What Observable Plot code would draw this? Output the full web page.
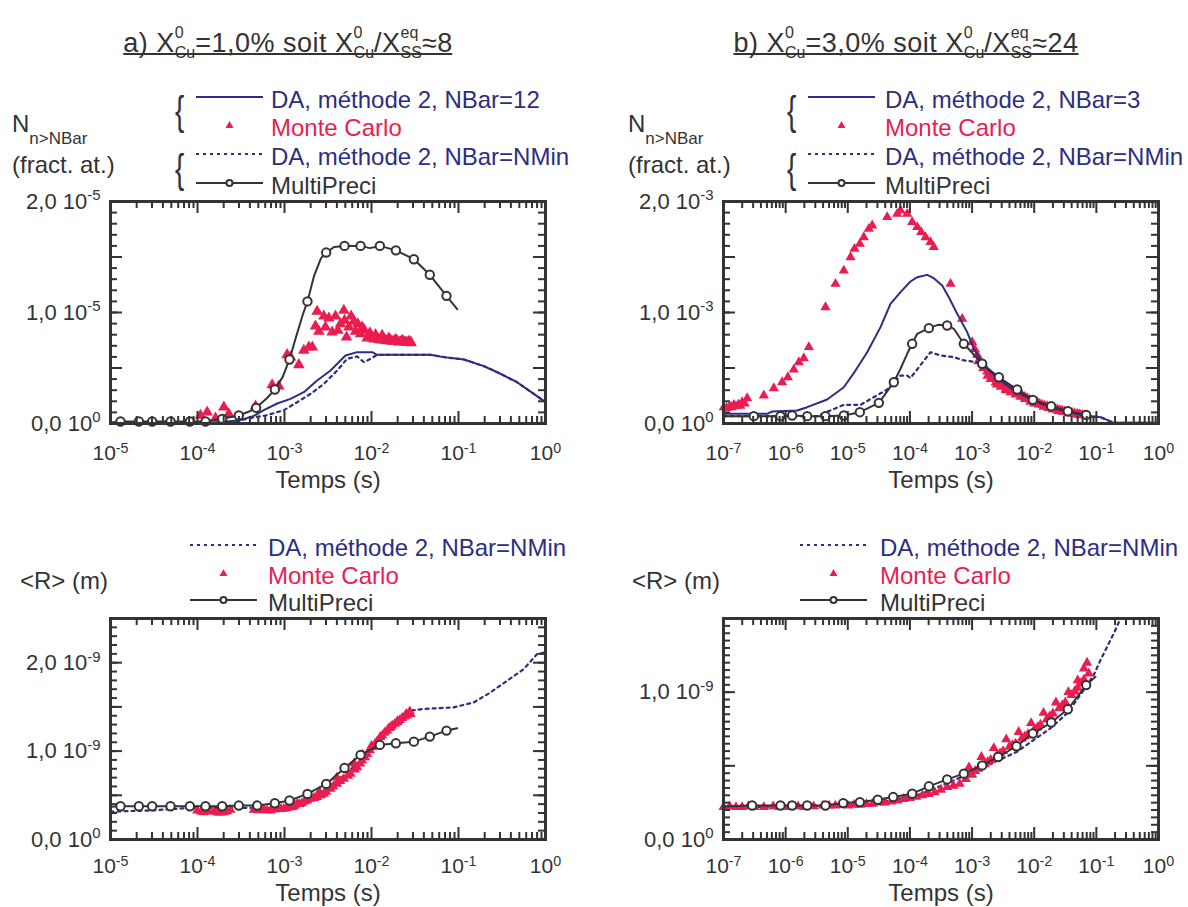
<!DOCTYPE html>
<html><head><meta charset="utf-8">
<script src="https://cdn.jsdelivr.net/npm/d3@7"></script>
<script src="https://cdn.jsdelivr.net/npm/@observablehq/plot@0.6"></script>
<style>
body{margin:0;background:#fff;font-family:"Liberation Sans",Arial,Helvetica,sans-serif;color:#333}
#root{position:relative;width:1188px;height:907px;overflow:hidden;background:#fff}
.abs{position:absolute;white-space:nowrap}
.title{font-size:27px;line-height:27px;height:30px;transform:translateX(-50%);border-bottom:2px solid #333;letter-spacing:0.5px}
.ss{display:inline-block;vertical-align:-6px;font-size:16px;line-height:20px;letter-spacing:0}
.ss span{display:block}
.row{position:absolute;height:28px;display:flex;align-items:center;font-size:24px;line-height:28px;white-space:nowrap}
.brace{position:absolute;font-size:40px;line-height:40px;color:#333;transform:scaleX(0.7);transform-origin:left center}
.ylab{position:absolute;font-size:24px;line-height:24px;color:#333;white-space:nowrap}
.ylab sub{font-size:17px;vertical-align:-12px}
</style>
</head><body><div id="root"></div>
<script>
const ink = "#333333", navy = "#2b2e83", red = "#ea1d50";

// ---------- Panel a) top : N_{n>NBar} (values in 1e-6) ----------
const aN_da_lt = [-5,-3.966,-3.697,-3.506,-3.353,-3.238,-3.084,-2.931,-2.778,-2.625,-2.471,-2.299,-2.165,-1.992,-1.935,-1.322,-1.169,-0.939,-0.709,-0.517,-0.326,-0.134,0];
const aN_da_v  = [0,0,0.15,0.3,0.69,1.2,1.8,2.22,2.82,3.87,4.77,6.13,6.43,6.43,6.19,6.19,5.98,5.77,5.17,4.48,3.72,2.67,1.92];
const aN_nmin_lt = [-5,-3.621,-3.429,-3.199,-3.008,-2.854,-2.701,-2.548,-2.395,-2.28,-2.165,-2.088,-2.011,-1.935,-1.322,-1.169,-0.939,-0.709,-0.517,-0.326,-0.134,0];
const aN_nmin_v  = [0,0.06,0.45,0.75,1.2,1.92,2.67,3.57,4.77,5.83,6.04,5.53,5.83,6.19,6.19,5.98,5.77,5.17,4.48,3.72,2.67,1.92];
const aN_mp_lt = [-5,-4.885,-4.674,-4.521,-4.31,-4.088,-3.908,-3.716,-3.525,-3.4,-3.326,-3.2,-3.111,-3.02,-2.943,-2.86,-2.79,-2.736,-2.66,-2.58,-2.521,-2.43,-2.31,-2.126,-2.02,-1.904,-1.72,-1.513,-1.33,-1.138,-1.015];
const aN_mp_v  = [0.1,0.18,0.18,0.18,0.18,0.18,0.18,0.42,0.72,1.1,1.41,2.3,3.06,4.2,5.77,8.0,9.8,11.0,13.3,14.9,15.4,15.9,16.0,16.0,15.8,16.0,15.6,14.8,13.4,11.5,10.3];
const aN_mpo_lt = [-4.885,-4.674,-4.521,-4.31,-4.088,-3.908,-3.716,-3.525,-3.326,-3.111,-2.943,-2.736,-2.521,-2.31,-2.126,-1.904,-1.72,-1.513,-1.33,-1.138];
const aN_mpo_v  = [0.18,0.18,0.18,0.18,0.18,0.18,0.42,0.72,1.41,3.06,5.77,11.0,15.4,16.0,16.0,16.0,15.6,14.8,13.4,11.5];
const aN_mc = [[-3.966,0.72],[-3.889,1.02],[-3.793,0.48],[-3.697,1.47],[-3.64,0.87],[-3.333,1.56],[-3.142,3.48],[-3.065,3.36],[-2.97,6.19],[-2.931,5.98],[-2.835,5.29],[-2.778,6.58],[-2.72,6.88],[-2.68,6.88],[-2.625,10.09],[-2.644,8.77],[-2.605,8.29],[-2.548,9.67],[-2.529,8.68],[-2.49,9.49],[-2.452,8.23],[-2.414,9.67],[-2.387,8.38],[-2.356,8.98],[-2.318,10.18],[-2.31,9.28],[-2.287,7.78],[-2.26,8.68],[-2.234,9.67],[-2.203,9.19],[-2.184,8.29],[-2.157,8.98],[-2.126,8.08],[-2.107,8.68],[-2.08,8.38],[-2.05,7.69],[-2.019,8.17],[-1.992,7.78],[-1.97,7.6],[-1.954,7.99],[-1.935,7.7],[-1.916,7.57],[-1.897,7.5],[-1.878,7.93],[-1.86,7.6],[-1.839,7.48],[-1.82,7.45],[-1.801,7.69],[-1.78,7.5],[-1.763,7.39],[-1.744,7.4],[-1.724,7.57],[-1.705,7.45],[-1.686,7.33],[-1.667,7.35],[-1.648,7.48],[-1.63,7.4],[-1.609,7.33],[-1.59,7.3],[-1.571,7.39],[-1.557,7.35],[-1.544,7.27]];

// ---------- Panel b) top : N_{n>NBar} (values in 1e-4) ----------
const bN_da_lt = [-7,-6.297,-6.217,-5.814,-5.653,-5.332,-5.064,-4.876,-4.688,-4.473,-4.313,-4.152,-3.991,-3.883,-3.722,-3.616,-3.481,-3.374,-3.239,-3.079,-2.971,-2.81,-2.542,-2.274,-2.006,-1.738,-1.469,-1.201,-0.933,-0.719,0];
const bN_da_v  = [0.87,0.87,1.08,1.17,1.47,2.16,3.27,4.77,6.42,8.68,10.78,11.83,12.79,13.18,13.39,13.09,12.43,11.38,9.88,8.23,6.73,5.23,3.87,2.82,2.07,1.47,1.08,0.72,0.57,0.06,0.06];
const bN_nmin_lt = [-7,-5.5,-5.064,-4.795,-4.366,-4.152,-4.044,-3.991,-3.669,-3.508,-3.293,-3.133,-2.918,-2.81,-2.542,-2.274,-2.006,-1.738,-1.469,-1.201,-0.933,-0.719,0];
const bN_nmin_v  = [0.66,0.66,1.68,1.68,3.06,4.32,4.32,4.1,6.42,6.13,5.98,5.68,5.53,5.23,3.87,2.82,2.07,1.47,1.08,0.72,0.57,0.06,0.06];
const bN_mp_lt = [-7,-6.512,-6.083,-5.895,-5.653,-5.359,-5.064,-4.806,-4.5,-4.259,-4.152,-4.044,-3.964,-3.883,-3.695,-3.55,-3.401,-3.293,-3.133,-2.837,-2.569,-2.274,-2.022,-1.727,-1.459,-1.164,-1.04];
const bN_mp_v  = [0.66,0.66,0.66,0.72,0.66,0.66,0.72,1.02,1.86,3.72,4.93,6.28,7.18,8.08,8.59,8.89,8.83,8.53,7.18,5.38,4.17,3.06,2.13,1.56,1.11,0.78,0.57];
const bN_mpo_lt = [-6.512,-6.083,-5.895,-5.653,-5.359,-5.064,-4.806,-4.5,-4.259,-3.964,-3.695,-3.401,-3.133,-2.837,-2.569,-2.274,-2.022,-1.727,-1.459,-1.164];
const bN_mpo_v  = [0.66,0.66,0.72,0.66,0.66,0.72,1.02,1.86,3.72,7.18,8.59,8.83,7.18,5.38,4.17,3.06,2.13,1.56,1.11,0.78];
const bN_mc = [[-6.995,1.47],[-6.95,1.4],[-6.9,1.55],[-6.87,1.45],[-6.834,1.68],[-6.8,1.55],[-6.76,1.7],[-6.73,1.6],[-6.7,1.92],[-6.66,1.8],[-6.619,2.28],[-6.351,2.52],[-6.19,3.18],[-6.056,3.72],[-5.965,4.17],[-5.869,4.86],[-5.788,5.52],[-5.708,5.88],[-5.627,6.88],[-5.359,10.48],[-5.198,12.58],[-5.064,13.78],[-4.956,14.98],[-4.892,15.74],[-4.806,16.19],[-4.742,16.78],[-4.662,17.54],[-4.607,17.84],[-4.366,18.59],[-4.205,18.89],[-4.152,19.2],[-4.044,18.89],[-3.964,18.14],[-3.883,17.69],[-3.819,17.24],[-3.749,16.78],[-3.669,16.34],[-3.616,15.89],[-3.347,12.58],[-3.159,9.43],[-2.998,7.33],[-2.958,6.7],[-2.918,6.19],[-2.9,5.6],[-2.878,5.7],[-2.837,5.38],[-2.82,5.0],[-2.797,5.0],[-2.757,4.68],[-2.75,4.3],[-2.716,4.4],[-2.7,4.0],[-2.676,4.17],[-2.636,4.0],[-2.62,3.7],[-2.6,3.5],[-2.596,3.87],[-2.556,3.7],[-2.54,3.3],[-2.515,3.57],[-2.475,3.4],[-2.46,3.05],[-2.45,3.0],[-2.435,3.27],[-2.394,3.1],[-2.38,2.8],[-2.354,2.97],[-2.314,2.85],[-2.3,2.6],[-2.274,2.79],[-2.233,2.65],[-2.22,2.4],[-2.193,2.52],[-2.153,2.4],[-2.15,2.2],[-2.113,2.28],[-2.072,2.15],[-2.06,1.95],[-2.032,2.07],[-2.0,1.8],[-1.992,1.98],[-1.952,1.92],[-1.93,1.7],[-1.911,1.78],[-1.871,1.68],[-1.85,1.5],[-1.831,1.6],[-1.791,1.56],[-1.77,1.4],[-1.751,1.45],[-1.711,1.38],[-1.7,1.25],[-1.67,1.32],[-1.63,1.26],[-1.61,1.12],[-1.59,1.2],[-1.55,1.17],[-1.55,1.05],[-1.51,1.08],[-1.469,1.02],[-1.45,0.92],[-1.429,0.98],[-1.4,0.9],[-1.389,0.96],[-1.348,0.9],[-1.308,0.87],[-1.29,0.78],[-1.268,0.82],[-1.25,0.75],[-1.228,0.78],[-1.188,0.75],[-1.147,0.72]];

// ---------- Panel a) bottom : <R> (values in 1e-10 m) ----------
const aR_nmin_lt = [-5,-4.54,-4.08,-3.123,-2.931,-2.739,-2.548,-2.318,-2.126,-1.973,-1.782,-1.552,-1.398,-1.054,-0.824,-0.632,-0.44,-0.249,-0.096,0];
const aR_nmin_v  = [3.16,3.28,3.58,3.58,3.95,4.6,5.54,7.23,8.93,10.43,12.32,14.58,14.77,14.95,15.51,16.64,17.97,19.29,20.98,21.17];
const aR_mp_lt = [-5,-4.885,-4.674,-4.521,-4.31,-4.088,-3.908,-3.716,-3.525,-3.314,-3.111,-2.943,-2.736,-2.521,-2.31,-2.126,-1.904,-1.72,-1.513,-1.33,-1.138,-1.015];
const aR_mp_v  = [3.7,3.76,3.76,3.76,3.76,3.76,3.76,3.76,3.84,3.84,4.1,4.41,5.16,6.29,8.1,9.57,10.7,10.88,11.07,11.64,12.32,12.58];
const aR_mpo_lt = [-4.885,-4.674,-4.521,-4.31,-4.088,-3.908,-3.716,-3.525,-3.314,-3.111,-2.943,-2.736,-2.521,-2.31,-2.126,-1.904,-1.72,-1.513,-1.33,-1.138];
const aR_mpo_v  = [3.76,3.76,3.76,3.76,3.76,3.76,3.76,3.84,3.84,4.1,4.41,5.16,6.29,8.1,9.57,10.7,10.88,11.07,11.64,12.32];
const aR_mc = [[-4.004,3.28],[-3.96,3.15],[-3.927,3.09],[-3.87,3.2],[-3.812,3.16],[-3.77,3.05],[-3.74,3.05],[-3.697,3.09],[-3.66,3.2],[-3.621,3.35],[-3.353,3.35],[-3.3,3.3],[-3.238,3.35],[-3.2,3.3],[-3.161,3.28],[-3.12,3.4],[-3.084,3.47],[-3.04,3.45],[-3.008,3.47],[-2.97,3.55],[-2.931,3.65],[-2.9,3.7],[-2.88,3.85],[-2.854,4.03],[-2.83,4.0],[-2.8,4.1],[-2.77,4.3],[-2.739,4.41],[-2.7,4.6],[-2.66,4.7],[-2.625,4.79],[-2.6,5.4],[-2.58,5.0],[-2.548,5.16],[-2.52,5.4],[-2.5,6.2],[-2.471,5.73],[-2.44,6.0],[-2.4,7.0],[-2.395,6.29],[-2.36,6.6],[-2.318,6.86],[-2.3,7.9],[-2.27,7.2],[-2.241,7.42],[-2.2,8.6],[-2.19,7.9],[-2.165,8.18],[-2.13,8.6],[-2.107,8.93],[-2.1,9.6],[-2.075,9.3],[-2.05,9.68],[-2.02,10.1],[-2.0,10.6],[-1.992,10.43],[-1.96,10.8],[-1.935,11.11],[-1.9,11.6],[-1.877,11.75],[-1.85,12.1],[-1.82,12.32],[-1.8,12.6],[-1.78,12.7],[-1.762,12.88],[-1.73,13.1],[-1.705,13.26],[-1.7,13.4],[-1.675,13.5],[-1.648,13.75],[-1.62,13.9],[-1.6,14.2],[-1.59,14.01],[-1.56,14.5],[-1.552,14.2]];

// ---------- Panel b) bottom : <R> (values in 1e-10 m) ----------
const bR_nmin_lt = [-7,-5.77,-4.688,-3.883,-3.293,-2.81,-2.274,-2.006,-1.738,-1.469,-1.201,-1.04,-0.933,-0.719,-0.611];
const bR_nmin_v  = [2.2,2.24,2.38,2.99,4.01,4.92,5.96,6.76,7.55,8.57,10.16,11.18,12.18,13.99,15.0];
const bR_mp_lt = [-7,-6.539,-6.083,-5.895,-5.653,-5.359,-5.074,-4.806,-4.517,-4.269,-3.964,-3.695,-3.401,-3.133,-2.837,-2.58,-2.285,-2.022,-1.727,-1.459,-1.164,-1.013];
const bR_mp_v  = [2.24,2.31,2.31,2.31,2.31,2.31,2.47,2.54,2.7,2.88,3.11,3.61,4.08,4.47,5.03,5.6,6.33,7.19,7.94,8.84,10.48,11.04];
const bR_mpo_lt = [-6.539,-6.083,-5.895,-5.653,-5.359,-5.074,-4.806,-4.517,-4.269,-3.964,-3.695,-3.401,-3.133,-2.837,-2.58,-2.285,-2.022,-1.727,-1.459,-1.164];
const bR_mpo_v  = [2.31,2.31,2.31,2.31,2.31,2.47,2.54,2.7,2.88,3.11,3.61,4.08,4.47,5.03,5.6,6.33,7.19,7.94,8.84,10.48];
const bR_mc = [[-7,2.2],[-6.9,2.25],[-6.8,2.2],[-6.7,2.2],[-6.6,2.25],[-6.5,2.2],[-6.35,2.2],[-6.2,2.25],[-6.1,2.2],[-5.95,2.2],[-5.8,2.25],[-5.7,2.2],[-5.55,2.25],[-5.4,2.3],[-5.3,2.3],[-5.2,2.3],[-5.1,2.35],[-5.0,2.3],[-4.9,2.35],[-4.8,2.35],[-4.7,2.4],[-4.6,2.42],[-4.5,2.5],[-4.4,2.5],[-4.3,2.58],[-4.2,2.65],[-4.1,2.75],[-4.0,2.82],[-3.9,2.9],[-3.8,3.0],[-3.7,3.08],[-3.6,3.2],[-3.5,3.38],[-3.4,3.56],[-3.3,3.65],[-3.2,3.78],[-3.1,4.1],[-3.05,4.9],[-3.0,4.4],[-2.95,4.65],[-2.9,4.8],[-2.85,5.6],[-2.8,5.1],[-2.75,5.25],[-2.7,5.4],[-2.65,6.2],[-2.6,5.7],[-2.55,5.85],[-2.5,6.0],[-2.45,6.8],[-2.4,6.3],[-2.35,6.4],[-2.3,6.5],[-2.25,7.3],[-2.2,6.85],[-2.15,7.0],[-2.1,7.15],[-2.05,7.9],[-2.0,7.45],[-1.95,7.6],[-1.9,7.8],[-1.85,8.6],[-1.8,8.15],[-1.75,8.35],[-1.7,8.55],[-1.65,9.3],[-1.6,8.9],[-1.55,9.1],[-1.5,9.3],[-1.45,10.0],[-1.4,9.8],[-1.35,10.05],[-1.3,10.3],[-1.3,10.8],[-1.25,10.6],[-1.2,10.85],[-1.2,11.6],[-1.15,12.0],[-1.121,11.27]];

// tick labels
const yLabA_N = ["0,0 10^0","1,0 10^-5","2,0 10^-5"];
const yLabB_N = ["0,0 10^0","1,0 10^-3","2,0 10^-3"];
const yLabA_R = ["0,0 10^0","1,0 10^-9","2,0 10^-9"];
const yLabB_R = ["0,0 10^0","1,0 10^-9"];

const rows = (lt, v, u) => lt.map((e, i) => ({t: 10 ** e, v: v[i] * u}));
const pairs = (p, u) => p.map(([e, v]) => ({t: 10 ** e, v: v * u}));

function supify(svg) {
  svg.querySelectorAll("text").forEach(t => {
    const s = t.textContent, i = s.indexOf("^");
    if (i < 0) return;
    t.textContent = s.slice(0, i);
    const sp = document.createElementNS("http://www.w3.org/2000/svg", "tspan");
    sp.setAttribute("dy", "-0.55em");
    sp.setAttribute("font-size", "0.68em");
    sp.textContent = s.slice(i + 1);
    t.appendChild(sp);
  });
}

const W = 560, ML = 110, MR = 15, MT = 11;
function panel(o) {
  const e0 = o.xExp;
  const innerW = W - ML - MR, innerH = o.height - MT - o.mb;
  const decades = d3.range(e0, 1).map(e => 10 ** e);
  const minors = [];
  for (const d of decades.slice(0, -1)) for (let k = 2; k <= 9; k++) minors.push(k * d);
  const n = Math.round(o.yMax / o.yStep);
  const yMinor = d3.range(n + 1).map(i => i * o.yStep);
  const nl = Math.round(o.yMax / o.yLong);
  const yLong = d3.range(nl + 1).map(i => i * o.yLong);
  const yLabTicks = o.yLabels.map((_, i) => i * o.yLabStep);
  const ts = {stroke: ink, strokeWidth: 2};
  const marks = [
    ...o.marks,
    Plot.tickX(minors, {...ts, x: d => d, insetTop: innerH - 7}),
    Plot.tickX(minors, {...ts, x: d => d, insetBottom: innerH - 7}),
    Plot.tickX(decades, {...ts, x: d => d, insetTop: innerH - 12}),
    Plot.tickX(decades, {...ts, x: d => d, insetBottom: innerH - 12}),
    Plot.tickY(yMinor, {...ts, y: d => d, insetRight: innerW - 7}),
    Plot.tickY(yMinor, {...ts, y: d => d, insetLeft: innerW - 7}),
    Plot.tickY(yLong, {...ts, y: d => d, insetRight: innerW - 12}),
    Plot.tickY(yLong, {...ts, y: d => d, insetLeft: innerW - 12}),
    Plot.axisX({anchor: "bottom", ticks: decades, tickSize: 0, tickPadding: o.pad, label: null, fontSize: 21, fill: ink,
      tickFormat: d => "10^" + Math.round(Math.log10(d))}),
    Plot.axisY({anchor: "left", ticks: yLabTicks, tickSize: 0, tickPadding: 10, label: null, fontSize: 22, fill: ink,
      tickFormat: d => o.yLabels[yLabTicks.indexOf(d)]}),
    Plot.text(["Temps (s)"], {frameAnchor: "bottom", dy: o.tdy, text: d => d, fontSize: 24, fill: ink}),
    Plot.frame({stroke: ink, strokeWidth: 3})
  ];
  const svg = Plot.plot({
    width: W, height: o.height,
    marginLeft: ML, marginRight: MR, marginTop: MT, marginBottom: o.mb,
    x: {type: "log", domain: [10 ** e0, 1], label: null},
    y: {domain: [0, o.yMax], label: null},
    style: {fontFamily: '"Liberation Sans", Arial, sans-serif', fontSize: "22px", color: ink, background: "transparent", overflow: "visible"},
    marks
  });
  supify(svg);
  const div = document.createElement("div");
  div.className = "abs";
  div.style.left = o.left + "px"; div.style.top = o.top + "px";
  div.appendChild(svg);
  document.getElementById("root").appendChild(div);
}

const solid = (d) => Plot.line(d, {x: "t", y: "v", stroke: navy, strokeWidth: 2});
const dotted = (d) => Plot.line(d, {x: "t", y: "v", stroke: navy, strokeWidth: 2.2, strokeDasharray: "3,4"});
const mcDots = (d, r) => Plot.dot(d, {x: "t", y: "v", symbol: "triangle", r, fill: red, stroke: null});
const mpLine = (d) => Plot.line(d, {x: "t", y: "v", stroke: ink, strokeWidth: 2});
const mpDots = (d) => Plot.dot(d, {x: "t", y: "v", r: 4.2, stroke: ink, strokeWidth: 2, fill: "white"});

panel({left: 0, top: 190, height: 310, mb: 77, pad: 22, tdy: 64, xExp: -5, yMax: 2e-5, yStep: 1e-6, yLong: 5e-6, yLabStep: 1e-5, yLabels: yLabA_N,
  marks: [solid(rows(aN_da_lt, aN_da_v, 1e-6)), dotted(rows(aN_nmin_lt, aN_nmin_v, 1e-6)), mcDots(pairs(aN_mc, 1e-6), 4.3),
          mpLine(rows(aN_mp_lt, aN_mp_v, 1e-6)), mpDots(rows(aN_mpo_lt, aN_mpo_v, 1e-6))]});
panel({left: 613, top: 190, height: 310, mb: 77, pad: 22, tdy: 64, xExp: -7, yMax: 2e-3, yStep: 1e-4, yLong: 5e-4, yLabStep: 1e-3, yLabels: yLabB_N,
  marks: [mcDots(pairs(bN_mc, 1e-4), 3.8), solid(rows(bN_da_lt, bN_da_v, 1e-4)), dotted(rows(bN_nmin_lt, bN_nmin_v, 1e-4)),
          mpLine(rows(bN_mp_lt, bN_mp_v, 1e-4)), mpDots(rows(bN_mpo_lt, bN_mpo_v, 1e-4))]});
panel({left: 0, top: 607, height: 300, mb: 68, pad: 19, tdy: 61, xExp: -5, yMax: 2.5e-9, yStep: 1e-10, yLong: 5e-10, yLabStep: 1e-9, yLabels: yLabA_R,
  marks: [dotted(rows(aR_nmin_lt, aR_nmin_v, 1e-10)), mcDots(pairs(aR_mc, 1e-10), 3.8),
          mpLine(rows(aR_mp_lt, aR_mp_v, 1e-10)), mpDots(rows(aR_mpo_lt, aR_mpo_v, 1e-10))]});
panel({left: 613, top: 607, height: 300, mb: 68, pad: 19, tdy: 61, xExp: -7, yMax: 1.5e-9, yStep: 5e-11, yLong: 5e-10, yLabStep: 1e-9, yLabels: yLabB_R,
  marks: [dotted(rows(bR_nmin_lt, bR_nmin_v, 1e-10)), mcDots(pairs(bR_mc, 1e-10), 3.8),
          mpLine(rows(bR_mp_lt, bR_mp_v, 1e-10)), mpDots(rows(bR_mpo_lt, bR_mpo_v, 1e-10))]});

// ---------- titles, legends, axis titles ----------
const root = document.getElementById("root");
function add(html) { root.insertAdjacentHTML("beforeend", html); }
const ss = (a, b) => `<span class="ss"><span>${a}</span><span>${b}</span></span>`;
add(`<div class="abs title" style="left:288px;top:23px">a) X${ss("0","Cu")}=1,0% soit X${ss("0","Cu")}/X${ss("eq","SS")}≈8</div>`);
add(`<div class="abs title" style="left:906px;top:23px">b) X${ss("0","Cu")}=3,0% soit X${ss("0","Cu")}/X${ss("eq","SS")}≈24</div>`);

const sw = {
  solid: `<svg width="67" height="14"><line x1="0" y1="7" x2="67" y2="7" stroke="${navy}" stroke-width="2"/></svg>`,
  dotted: `<svg width="67" height="14"><line x1="0" y1="7" x2="67" y2="7" stroke="${navy}" stroke-width="2.2" stroke-dasharray="3,4"/></svg>`,
  mc: `<svg width="67" height="14"><path d="M33.5,3 L37.5,10 L29.5,10 Z" fill="${red}"/></svg>`,
  mp: `<svg width="67" height="14"><line x1="0" y1="7" x2="67" y2="7" stroke="${ink}" stroke-width="2"/><circle cx="33.5" cy="7" r="3" fill="white" stroke="${ink}" stroke-width="2"/></svg>`
};
function legend(sx, tx, items) {
  for (const [yc, key, label, color] of items) {
    add(`<div class="row" style="left:${sx}px;top:${yc - 14}px"><span style="position:relative;top:-3px;display:flex">${sw[key]}</span><span style="margin-left:${tx - sx - 67}px;color:${color}">${label}</span></div>`);
  }
}
const topItems = (n) => [[100, "solid", `DA, méthode 2, NBar=${n}`, navy], [128, "mc", "Monte Carlo", red], [157, "dotted", "DA, méthode 2, NBar=NMin", navy], [186, "mp", "MultiPreci", ink]];
const botItems = [[548, "dotted", "DA, méthode 2, NBar=NMin", navy], [576, "mc", "Monte Carlo", red], [603, "mp", "MultiPreci", ink]];
legend(196, 271, topItems(12));
legend(808, 885, topItems(3));
legend(190, 268, botItems);
legend(800, 880, botItems);
for (const bx of [175, 787]) {
  add(`<div class="brace" style="left:${bx}px;top:91px">{</div>`);
  add(`<div class="brace" style="left:${bx}px;top:149px">{</div>`);
}
for (const lx of [12, 628]) {
  add(`<div class="ylab" style="left:${lx}px;top:112px">N<sub>n&gt;NBar</sub></div>`);
  add(`<div class="ylab" style="left:${lx}px;top:153px">(fract. at.)</div>`);
}
add(`<div class="ylab" style="left:20px;top:569px">&lt;R&gt; (m)</div>`);
add(`<div class="ylab" style="left:632px;top:569px">&lt;R&gt; (m)</div>`);
</script>
</body></html>
